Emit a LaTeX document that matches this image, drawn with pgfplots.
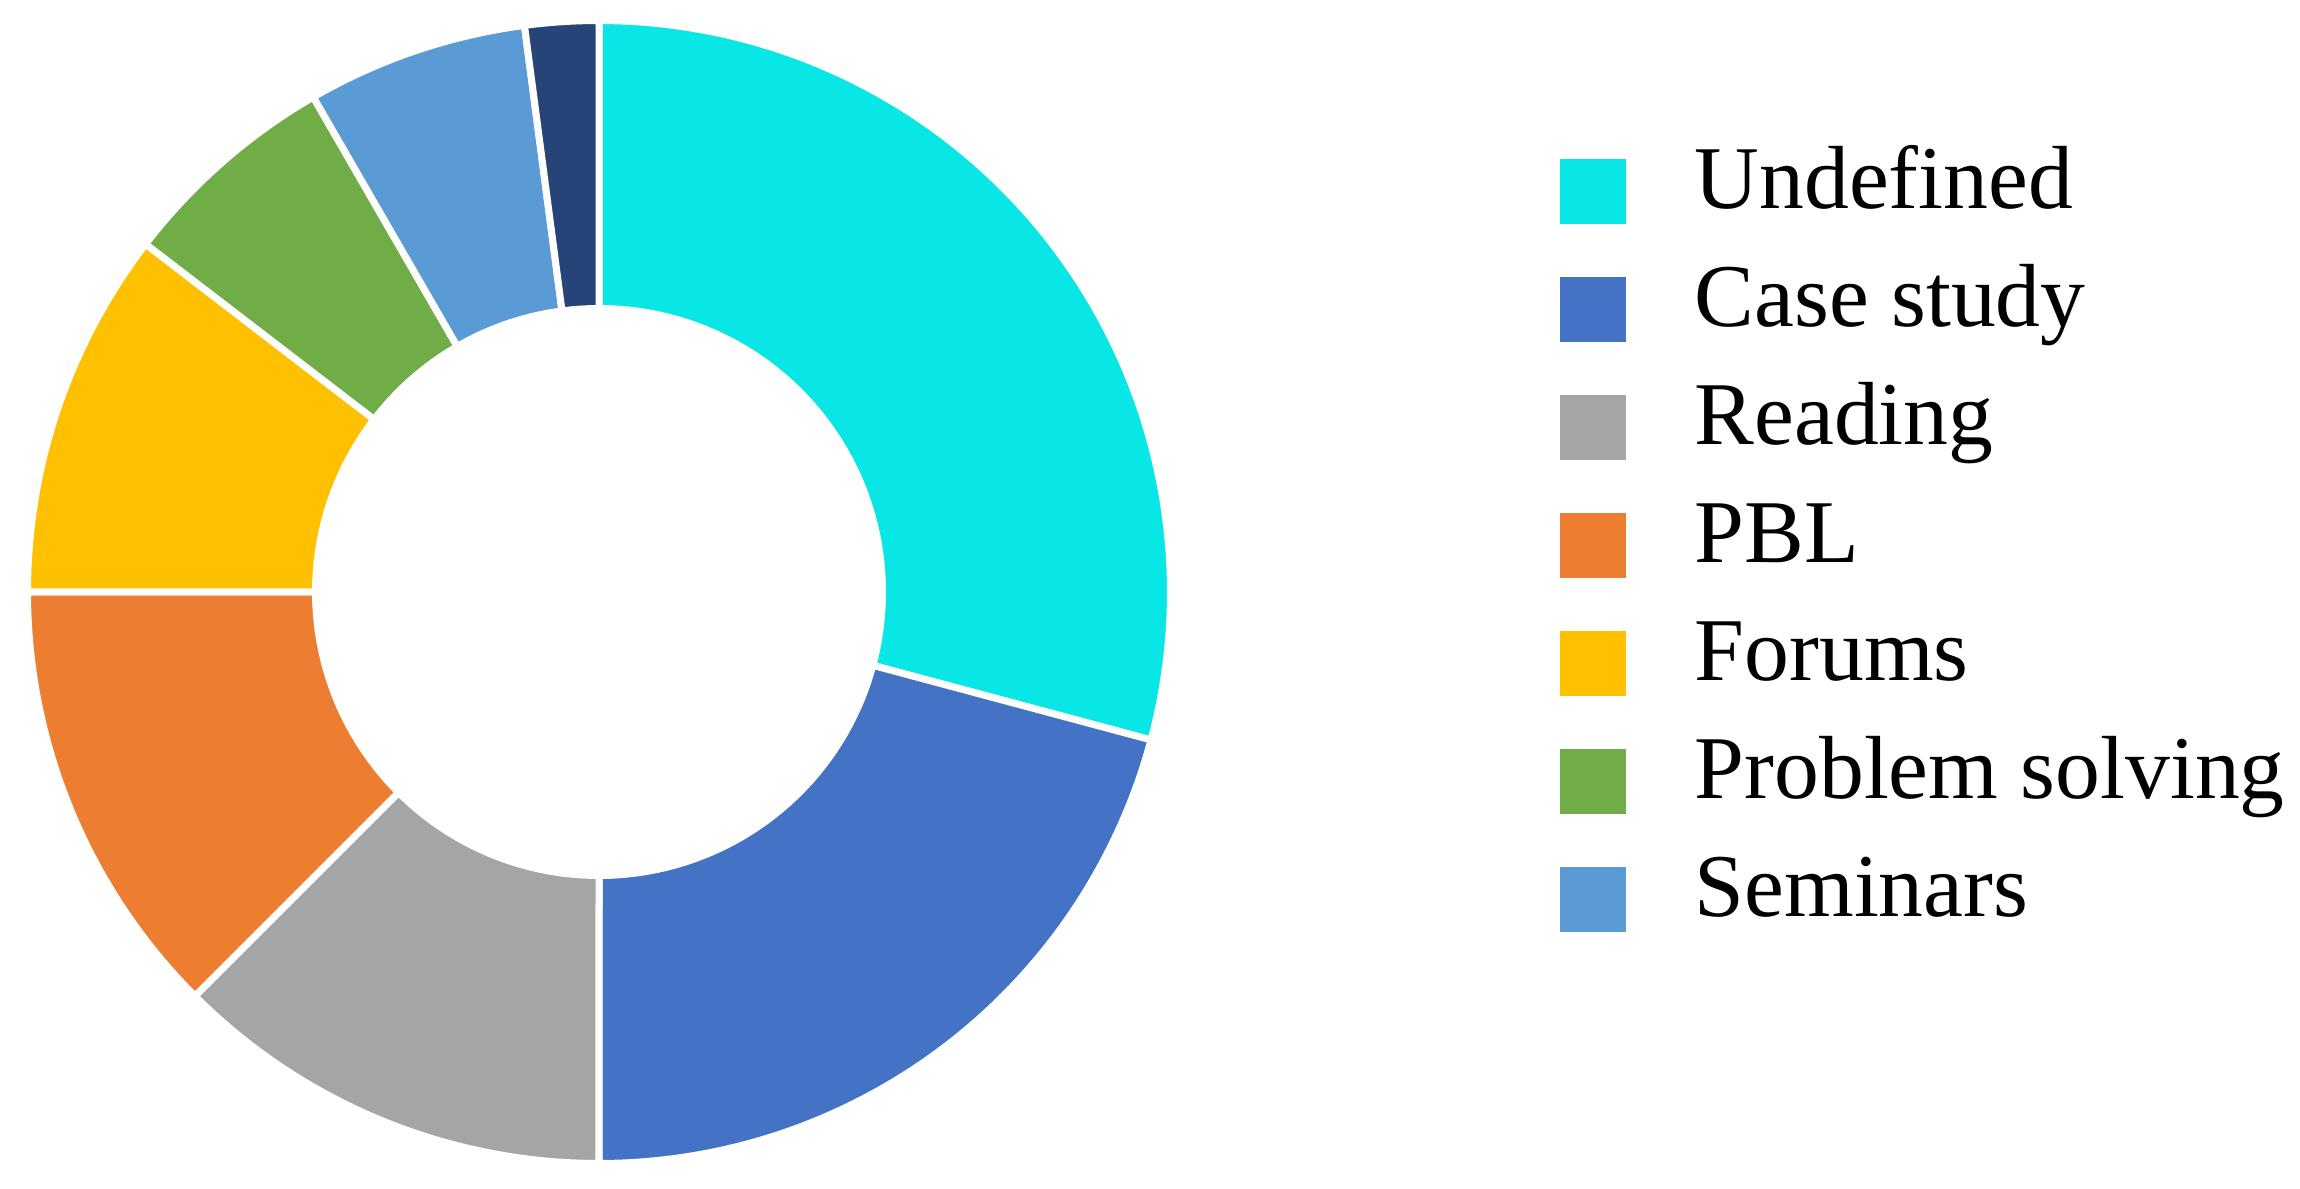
\documentclass[border=0pt]{standalone}
\usepackage{fontspec}
\setmainfont{Liberation Serif}
\usepackage{pgfplots}
\usepackage{pgfplotstable}
\pgfplotsset{compat=1.18}

\definecolor{cUnd}{HTML}{08E6E6}
\definecolor{cCase}{HTML}{4472C4}
\definecolor{cRead}{HTML}{A5A5A5}
\definecolor{cPBL}{HTML}{ED7D31}
\definecolor{cFor}{HTML}{FFC000}
\definecolor{cProb}{HTML}{70AD47}
\definecolor{cSem}{HTML}{5B9BD5}
\definecolor{cOth}{HTML}{264478}

% slices, clockwise from 12 o'clock
\pgfplotstableread[col sep=comma]{
name,count,col
Undefined,14,cUnd
Case study,10,cCase
Reading,6,cRead
PBL,6,cPBL
Forums,5,cFor
Problem solving,3,cProb
Seminars,3,cSem
Other,1,cOth
}\slices

\begin{document}
\begin{tikzpicture}
\begin{axis}[
    x=1cm, y=1cm,
    xmin=-5.99, xmax=17.01,
    ymin=-5.96, ymax=5.92,
    hide axis,
    clip=false,
    legend style={
        draw=none, fill=none, inner sep=0pt,
        at={(axis cs:9.60,4.46)}, anchor=north west,
        font=\fontsize{25.5}{30}\selectfont,
        nodes={inner sep=0pt, text height=0.62cm, text depth=0.18cm},
        cells={anchor=base west},
        row sep=0.38cm, column sep=0.69cm,
    },
    legend image code/.code={\fill[#1, draw=none] (0cm,-0.15cm) rectangle (0.66cm,0.50cm);},
]
\path (rel axis cs:0,0) rectangle (rel axis cs:1,1);

\pgfplotstablegetrowsof{\slices}
\pgfmathtruncatemacro\slLast{\pgfplotsretval-1}
\def\slTot{0}
\pgfplotsforeachungrouped \i in {0,...,\slLast}{
    \pgfplotstablegetelem{\i}{count}\of\slices
    \pgfmathsetmacro\slTot{\slTot+\pgfplotsretval}
}
\pgfmathsetmacro\slDeg{360/\slTot}
\def\slCum{0}
\pgfplotsforeachungrouped \i in {0,...,\slLast}{
    \pgfplotstablegetelem{\i}{count}\of\slices \let\slVal\pgfplotsretval
    \pgfplotstablegetelem{\i}{col}\of\slices \let\slCol\pgfplotsretval
    \pgfplotstablegetelem{\i}{name}\of\slices \let\slName\pgfplotsretval
    \pgfmathsetmacro\slA{90-\slDeg*\slCum}
    \pgfmathsetmacro\slCum{\slCum+\slVal}
    \pgfmathsetmacro\slB{90-\slDeg*\slCum}
    \ifnum\i=\slLast
        \edef\slCmd{\noexpand\addplot[fill=\slCol, draw=white, line width=0.7mm, forget plot,
            domain=\slB:\slA, samples=80, variable=\noexpand\t]
            ({5.715*cos(\noexpand\t)},{5.715*sin(\noexpand\t)}) -- (axis cs:0,0) -- cycle;}
    \else
        \edef\slCmd{\noexpand\addplot[fill=\slCol, draw=white, line width=0.7mm,
            domain=\slB:\slA, samples=80, variable=\noexpand\t]
            ({5.715*cos(\noexpand\t)},{5.715*sin(\noexpand\t)}) -- (axis cs:0,0) -- cycle;
            \noexpand\addlegendentry{\slName}}
    \fi
    \slCmd
}
% hole
\addplot[fill=white, draw=none, forget plot, domain=0:360, samples=181, variable=\t]
    ({2.87*cos(\t)},{2.87*sin(\t)}) -- cycle;
\end{axis}
\end{tikzpicture}
\end{document}
